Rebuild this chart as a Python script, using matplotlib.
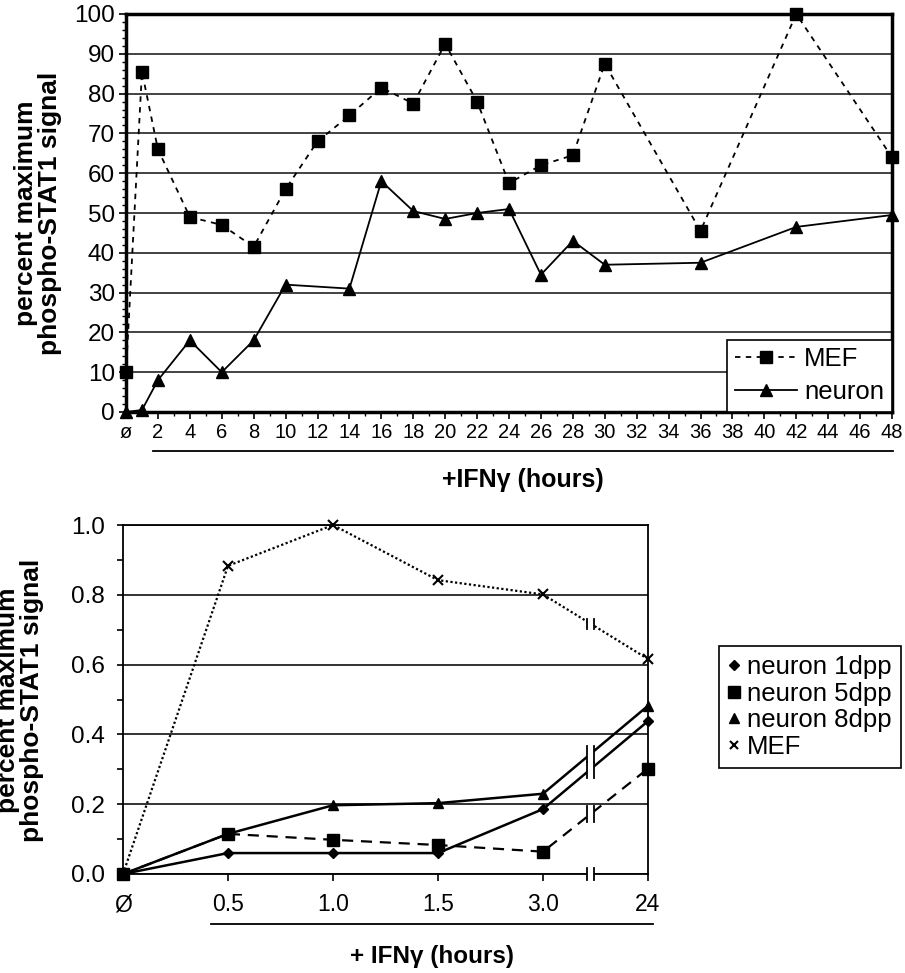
import matplotlib
matplotlib.use("Agg")
import matplotlib.pyplot as plt
import numpy as np
from matplotlib.ticker import MultipleLocator, FormatStrFormatter
from matplotlib.patches import Rectangle
from matplotlib.lines import Line2D

plt.rcParams['font.family'] = ['Liberation Sans', 'DejaVu Sans']

# ---- time course over 48 h (percent of maximum) ----
hours_mef = [0, 1, 2, 4, 6, 8, 10, 12, 14, 16, 18, 20, 22, 24, 26, 28, 30, 36, 42, 48]
mef_pct = [10, 85.5, 66, 49, 47, 41.5, 56, 68, 74.5, 81.5, 77.5, 92.5, 78, 57.5, 62, 64.5,
           87.5, 45.5, 100, 64]
hours_neuron = [0, 1, 2, 4, 6, 8, 10, 14, 16, 18, 20, 22, 24, 26, 28, 30, 36, 42, 48]
neuron_pct = [0, 0.5, 8, 18, 10, 18, 32, 31, 58, 50.5, 48.5, 50, 51, 34.5, 43, 37, 37.5,
              46.5, 49.5]
top_xticks = list(range(0, 49, 2))
top_xticklabels = ['ø'] + [str(h) for h in range(2, 49, 2)]

# ---- early time course by neuron age (fraction of maximum) ----
time_labels = ['Ø', '0.5', '1.0', '1.5', '3.0', '24']
neuron_1dpp = [0, 0.06, 0.06, 0.06, 0.186, 0.438]
neuron_5dpp = [0, 0.115, 0.098, 0.083, 0.064, 0.302]
neuron_8dpp = [0, 0.115, 0.197, 0.203, 0.23, 0.482]
mef_frac = [0, 0.883, 1.0, 0.842, 0.801, 0.616]

W, H = 905, 973
fig = plt.figure(figsize=(W / 100, H / 100), dpi=100)

def fx(px):
    return px / W

def fy(py):
    return 1 - py / H

ylab = 'percent maximum\nphospho-STAT1 signal'

# ================= top panel =================
ax1 = fig.add_axes([fx(126), fy(412), (892 - 126) / W, (412 - 14) / H])
ax1.plot(hours_mef, mef_pct, color='black', lw=1.3, ls=(0, (3, 3)), marker='s', ms=8,
         clip_on=False, zorder=4, label='MEF')
ax1.plot(hours_neuron, neuron_pct, color='black', lw=1.3, marker='^', ms=9,
         clip_on=False, zorder=4, label='neuron')
ax1.set_xlim(0, 48)
ax1.set_ylim(0, 100)
ax1.set_yticks(range(0, 101, 10))
ax1.yaxis.set_minor_locator(MultipleLocator(2))
ax1.set_xticks(top_xticks)
ax1.set_xticklabels(top_xticklabels)
ax1.xaxis.set_minor_locator(MultipleLocator(1))
ax1.grid(axis='y', color='#222222', lw=1.2)
ax1.set_axisbelow(True)
for s in ax1.spines.values():
    s.set_linewidth(2.5)
ax1.tick_params(axis='y', which='major', length=5, width=1.2, labelsize=17.5, pad=3)
ax1.tick_params(axis='y', which='minor', length=3, width=1)
ax1.tick_params(axis='x', which='major', length=5, width=1.2, labelsize=14.5, pad=3)
ax1.tick_params(axis='x', which='minor', length=3, width=1)

leg1 = ax1.legend(loc='lower right', bbox_to_anchor=(1, 0), borderaxespad=0, fontsize=18.5,
                  fancybox=False, edgecolor='black', framealpha=1, handlelength=2.4,
                  handletextpad=0.3, labelspacing=0.35, borderpad=0.3)
leg1.get_frame().set_linewidth(1.2)

fig.text(fx(38), fy(213), ylab, rotation=90, ha='center', va='center', fontsize=19,
         fontweight='bold', linespacing=1.0)
fig.text(fx(523), fy(480), '+IFNγ (hours)', ha='center', va='center', fontsize=18,
         fontweight='bold')
fig.add_artist(Line2D([fx(153), fx(893)], [fy(451)] * 2, color='black', lw=1.3))

# ================= bottom panel =================
ax2 = fig.add_axes([fx(123), fy(874), (648 - 123) / W, (874 - 525) / H])
x = np.arange(len(time_labels))
ax2.plot(x, mef_frac, color='black', lw=1.6, ls=(0, (1, 1.1)), marker='x', ms=7, mew=1.5,
         clip_on=False, zorder=4)
ax2.plot(x, neuron_5dpp, color='black', lw=1.6, ls=(0, (5, 3.5)), marker='s', ms=8,
         clip_on=False, zorder=4)
ax2.plot(x, neuron_1dpp, color='black', lw=1.8, marker='D', ms=5.5, clip_on=False, zorder=4)
ax2.plot(x, neuron_8dpp, color='black', lw=1.8, marker='^', ms=7.5, clip_on=False, zorder=4)
ax2.set_xlim(0, 5)
ax2.set_ylim(0, 1.0)
ax2.set_xticks(x)
ax2.set_xticklabels(time_labels)
ax2.set_yticks(np.arange(0, 1.01, 0.2))
ax2.yaxis.set_major_formatter(FormatStrFormatter('%.1f'))
ax2.yaxis.set_minor_locator(MultipleLocator(0.1))
ax2.grid(axis='y', color='#222222', lw=1.3)
ax2.set_axisbelow(True)
for s in ax2.spines.values():
    s.set_linewidth(1.3)
ax2.tick_params(axis='y', which='major', length=4, width=1.2, labelsize=17.5, pad=9)
ax2.tick_params(axis='y', which='minor', length=4, width=1.2)
ax2.tick_params(axis='x', which='major', length=5, width=1.2, labelsize=16.5, pad=9)

# axis-break marks between the 3.0 h and 24 h points
px_x = 5 / (648 - 123)
px_y = 1.0 / (874 - 525)
xb = 4.45

def draw_break(yb, cover_px, mark_px, gap_px=7):
    dx = gap_px / 2 * px_x
    ax2.add_patch(Rectangle((xb - dx, yb - cover_px * px_y), 2 * dx, 2 * cover_px * px_y,
                            fc='white', ec='none', zorder=5, clip_on=False))
    for xx in (xb - dx, xb + dx):
        ax2.plot([xx, xx], [yb - mark_px * px_y, yb + mark_px * px_y], color='black',
                 lw=1.3, zorder=6, clip_on=False)

draw_break(np.interp(xb, x, mef_frac), 4, 5)
for series in (neuron_8dpp, neuron_1dpp, neuron_5dpp):
    draw_break(np.interp(xb, x, series), 5, 8)
draw_break(0.0, 3, 6)

handles = [
    Line2D([], [], ls='none', marker='D', ms=5.5, color='black'),
    Line2D([], [], ls='none', marker='s', ms=8, color='black'),
    Line2D([], [], ls='none', marker='^', ms=7, color='black'),
    Line2D([], [], ls='none', marker='x', ms=6, mew=1.5, color='black'),
]
leg2 = ax2.legend(handles, ['neuron 1dpp', 'neuron 5dpp', 'neuron 8dpp', 'MEF'],
                  loc='center left', bbox_to_anchor=(1.135, 0.478), borderaxespad=0,
                  fontsize=18.5, fancybox=False, edgecolor='black', framealpha=1,
                  handlelength=0.5, handletextpad=0.25, labelspacing=0.1, borderpad=0.35)
leg2.get_frame().set_linewidth(1.2)

fig.text(fx(20), fy(700), ylab, rotation=90, ha='center', va='center', fontsize=19,
         fontweight='bold', linespacing=1.0)
fig.text(fx(432), fy(956), '+ IFNγ (hours)', ha='center', va='center', fontsize=17.5,
         fontweight='bold')
fig.add_artist(Line2D([fx(211), fx(653)], [fy(924)] * 2, color='black', lw=1.3))

fig.savefig('out.png', dpi=100)
